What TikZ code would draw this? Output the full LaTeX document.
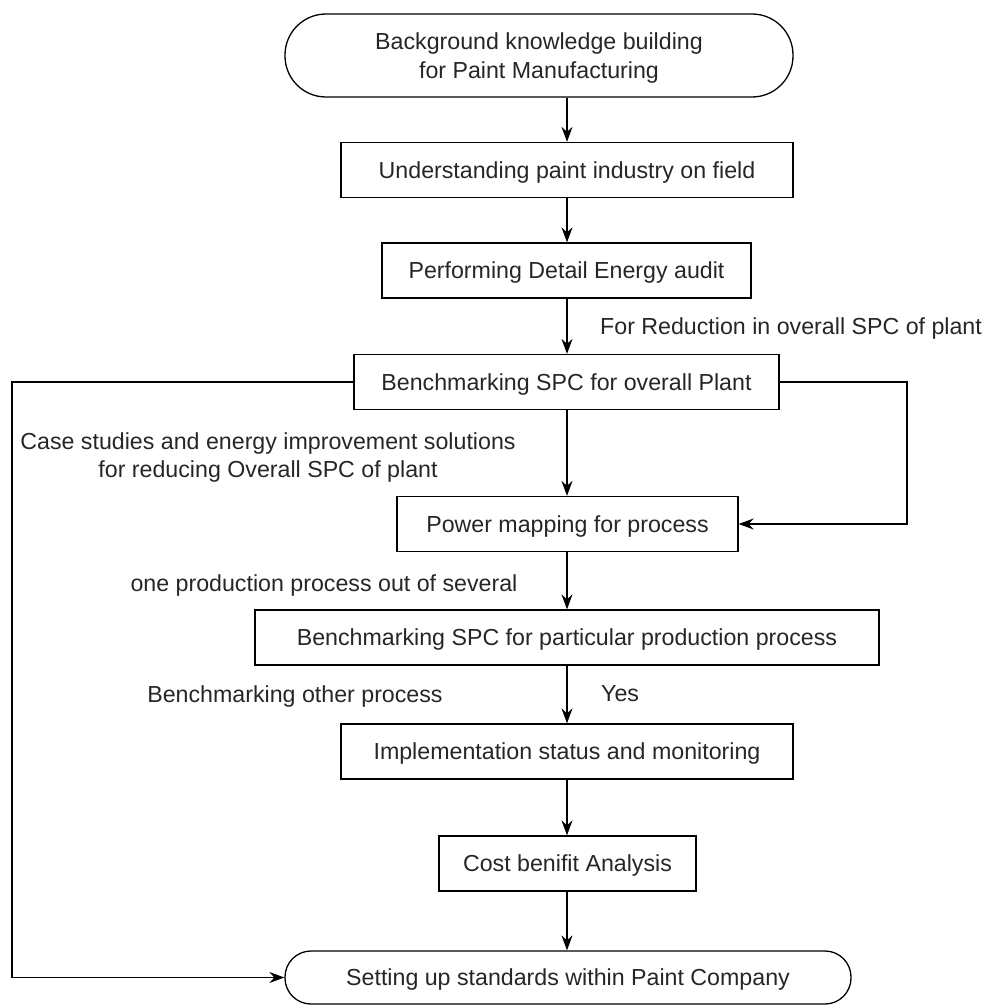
\documentclass[tikz,border=0pt]{standalone}
\usepackage{fontspec}
\setmainfont{Liberation Sans}
\usetikzlibrary{arrows.meta}
\begin{document}
\begin{tikzpicture}[x=1pt,y=-1pt,
  txt/.style={font=\fontsize{23.2}{28.5}\selectfont, text=black!85},
  box/.style={txt, draw, line width=1.3pt, minimum height=55pt, inner sep=0pt, align=center, text depth=0pt},
  term/.style={box},
  arr/.style={line width=1.3pt, -{Stealth[length=15pt,width=11pt,inset=5pt]}},
  lbl/.style={txt, inner sep=0pt, align=center, text depth=0pt}]
\useasboundingbox (0,0) rectangle (993,1006);
\node[term, minimum width=508pt, minimum height=83pt, rounded corners=41pt] (s) at (539,55.5) {Background knowledge building\\for Paint Manufacturing};
\node[box, minimum width=452pt] (b1) at (567,170) {Understanding paint industry on field};
\node[box, minimum width=369pt] (b2) at (566.5,270.5) {Performing Detail Energy audit};
\node[box, minimum width=425pt] (b3) at (566.5,382) {Benchmarking SPC for overall Plant};
\node[box, minimum width=341pt] (b4) at (567.5,524) {Power mapping for process};
\node[box, minimum width=624pt] (b5) at (567,637.5) {Benchmarking SPC for particular production process};
\node[box, minimum width=452pt] (b6) at (567,751.5) {Implementation status and monitoring};
\node[box, minimum width=257pt] (b7) at (567.5,863.5) {Cost benifit Analysis};
\node[term, minimum width=566pt, minimum height=53pt, rounded corners=26pt] (e) at (568,977.5) {Setting up standards within Paint Company};

\draw[arr] (b1.north |- s.south) -- (b1.north);
\draw[arr] (b1.south) -- (b1.south |- b2.north);
\draw[arr] (b1.south |- b2.south) -- (b1.south |- b3.north);
\draw[arr] (b1.south |- b3.south) -- (b1.south |- b4.north);
\draw[arr] (b1.south |- b4.south) -- (b1.south |- b5.north);
\draw[arr] (b1.south |- b5.south) -- (b1.south |- b6.north);
\draw[arr] (b1.south |- b6.south) -- (b1.south |- b7.north);
\draw[arr] (b1.south |- b7.south) -- (b1.south |- e.north);

\coordinate (L) at (12,382);
\coordinate (R) at (907,382);
\draw[arr] (b3.west) -- (L) |- (e.west);
\draw[arr] (b3.east) -- (R) |- (b4.east);

\node[lbl, anchor=west] (l1) at (600,326) {For Reduction in overall SPC of plant};
\node[lbl] (l2) at (268,455) {Case studies and energy improvement solutions\\for reducing Overall SPC of plant};
\node[lbl] (l3) at (324,583) {one production process out of several};
\node[lbl] (l4) at (295,694) {Benchmarking other process};
\node[lbl, anchor=west] (l5) at (601,694) {Yes};
\end{tikzpicture}
\end{document}
